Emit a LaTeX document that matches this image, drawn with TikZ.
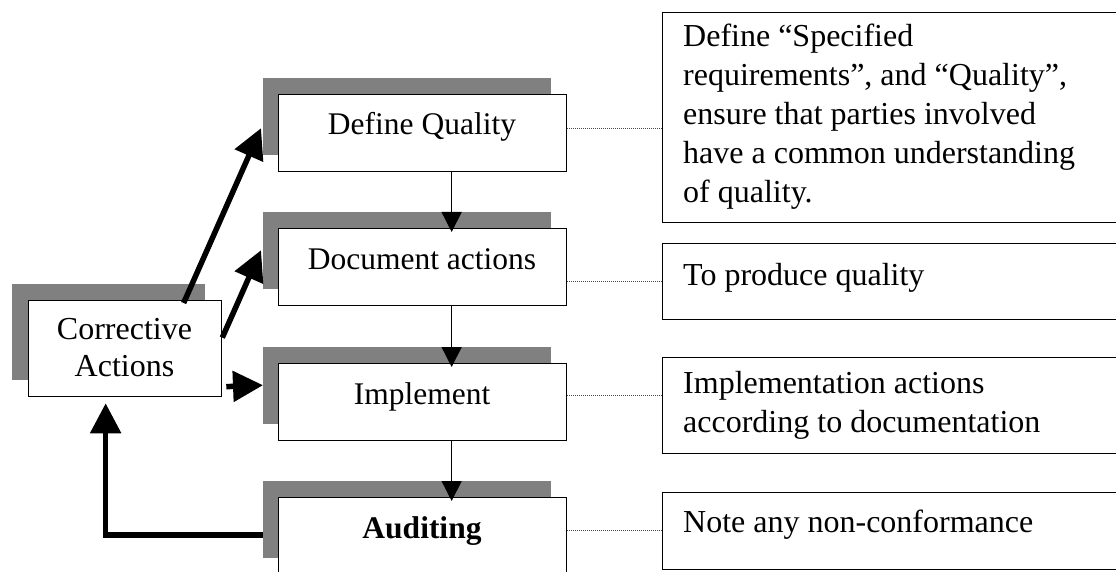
\documentclass[tikz,border=0pt]{standalone}
\usepackage{fontspec}
\setmainfont{Liberation Serif}
\usetikzlibrary{arrows.meta,calc}
\definecolor{shade}{RGB}{128,128,128}
\begin{document}
\begin{tikzpicture}[x=1pt,y=-1pt,
  shadowbox/.style={fill=shade,draw=none,anchor=north west,inner sep=0pt,minimum width=288pt,minimum height=77pt},
  stepbox/.style={fill=white,draw=black,line width=1.3pt,anchor=north west,inner sep=0pt,minimum width=288pt,minimum height=77pt},
  notebox/.style={fill=white,draw=black,line width=1.3pt,anchor=north west,inner sep=0pt,minimum width=480pt},
  steptext/.style={anchor=base,inner sep=0pt,font=\fontsize{31.5}{38}\selectfont},
  notetext/.style={anchor=base west,inner sep=0pt,font=\fontsize{32}{39}\selectfont},
  dotline/.style={line width=1pt,black!70,dash pattern=on 1pt off 1pt},
  thinarrow/.style={line width=1.5pt,-{Triangle[length=20pt,width=20pt]}},
  thickarrow/.style={line width=5.5pt,-{Triangle[length=30pt,width=30pt]}}
]
\useasboundingbox (0,0) rectangle (1116,572);
\clip (0,0) rectangle (1116,572);

% corrective actions
\node[shadowbox,minimum width=193pt,minimum height=96pt] (cas) at (12,283.5) {};
\node[stepbox,minimum width=193pt,minimum height=96pt] (ca) at (28,300) {};
\node[anchor=base,inner sep=0pt,font=\fontsize{32}{37}\selectfont] (catext) at (124.5,339)
  {\begin{tabular}[t]{@{}c@{}}Corrective\\Actions\end{tabular}};

% step boxes with shadows
\node[shadowbox] (dqs) at (263,77.5) {};
\node[stepbox] (dq) at (278,94) {};
\node[steptext] (dqt) at (422,135) {Define Quality};

\node[shadowbox] (das) at (263,211.5) {};
\node[stepbox] (da) at (278,228) {};
\node[steptext] (dat) at (422,269) {Document actions};

\node[shadowbox] (ims) at (263,346.5) {};
\node[stepbox] (im) at (278,363) {};
\node[steptext] (imt) at (422,404) {Implement};

\node[shadowbox] (aus) at (263,480.5) {};
\node[stepbox] (au) at (278,497) {};
\node[steptext] (aut) at (422,538) {\bfseries Auditing};

% note boxes
\node[notebox,minimum height=210pt] (n1) at (662,12) {};
\node[notetext] (n1t) at (683,47) {\begin{tabular}[t]{@{}l@{}}Define “Specified\\requirements”, and “Quality”,\\ensure that parties involved\\have a common understanding\\of quality.\end{tabular}};

\node[notebox,minimum height=76pt] (n2) at (662,243) {};
\node[notetext] (n2t) at (683,285) {To produce quality};

\node[notebox,minimum height=96pt] (n3) at (662,357) {};
\node[notetext] (n3t) at (683,393) {\begin{tabular}[t]{@{}l@{}}Implementation actions\\according to documentation\end{tabular}};

\node[notebox,minimum height=77pt] (n4) at (662,492) {};
\node[notetext] (n4t) at (683,532) {Note any non-conformance};

% dotted connectors
\draw[dotline] ([yshift=4.5pt]dq.east) -- ([yshift=4.5pt]dq.east -| n1.west);
\draw[dotline] ([yshift=-14.5pt]da.east) -- ([yshift=-14.5pt]da.east -| n2.west);
\draw[dotline] ([yshift=6.5pt]im.east) -- ([yshift=6.5pt]im.east -| n3.west);
\draw[dotline] ([yshift=5.5pt]au.east) -- ([yshift=5.5pt]au.east -| n4.west);

% thin flow arrows
\draw[thinarrow] ([xshift=29pt]dq.south) -- ([xshift=29pt,yshift=-4pt]da.north);
\draw[thinarrow] ([xshift=29pt]da.south) -- ([xshift=29pt,yshift=-4pt]im.north);
\draw[thinarrow] ([xshift=29pt]im.south) -- ([xshift=29pt,yshift=-4pt]au.north);

% thick arrows
\draw[thickarrow] ([xshift=58.5pt,yshift=-3pt]ca.north) -- ([xshift=-2pt,yshift=-12pt]dqs.west);
\draw[thickarrow] ([yshift=11pt]ca.east) -- ([xshift=-2pt,yshift=0pt]das.west);
\draw[thickarrow] ([xshift=4pt,yshift=-38pt]ca.east) -- (ims.west);
\draw[thickarrow] ([yshift=-16pt]aus.west) -| ([xshift=-19.5pt,yshift=-6pt]ca.south);
\end{tikzpicture}
\end{document}
